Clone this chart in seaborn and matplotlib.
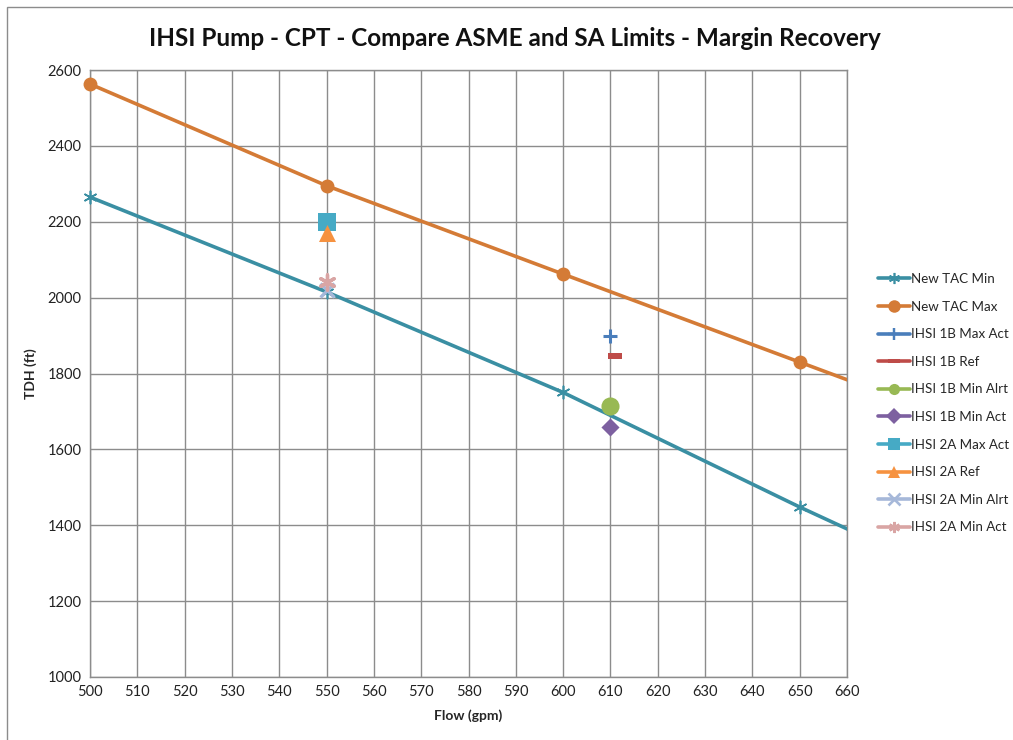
import matplotlib
matplotlib.use("Agg")
import matplotlib.pyplot as plt
from matplotlib.lines import Line2D
from matplotlib.patches import Rectangle
import seaborn as sns
import pandas as pd

# Test curve limits (flow in gpm, total developed head in ft)
tac_flow = [500, 550, 600, 650, 700]
tac_min_tdh = [2265, 2015, 1750, 1448, 1160]
tac_max_tdh = [2563, 2295, 2062, 1830, 1598]

# Measured pump points
point_names = ["IHSI 1B Max Act", "IHSI 1B Ref", "IHSI 1B Min Alrt", "IHSI 1B Min Act",
               "IHSI 2A Max Act", "IHSI 2A Ref", "IHSI 2A Min Alrt", "IHSI 2A Min Act"]
point_flow = [610, 611, 610, 610, 550, 550, 550, 550]
point_tdh = [1900, 1845, 1715, 1660, 2200, 2170, 2020, 2040]

x_ticks = list(range(500, 661, 10))
y_ticks = list(range(1000, 2601, 200))

sns.set_theme(style="white")
plt.rcParams["font.family"] = ["Lato", "DejaVu Sans"]

teal = "#3A8FA3"
orange = "#D47B36"
asterisk = (6, 2, 0)
dash = [(-1.0, -0.4), (1.0, -0.4), (1.0, 0.4), (-1.0, 0.4), (-1.0, -0.4)]
point_style = {
    "IHSI 1B Max Act": dict(color="#4A7EBB", marker="+", s=90, linewidths=2.2),
    "IHSI 1B Ref": dict(color="#BE4B48", marker=dash, s=90, linewidths=0),
    "IHSI 1B Min Alrt": dict(color="#98B954", marker="o", s=170, linewidths=0),
    "IHSI 1B Min Act": dict(color="#7D60A0", marker="D", s=85, linewidths=0),
    "IHSI 2A Max Act": dict(color="#46AAC5", marker="s", s=150, linewidths=0),
    "IHSI 2A Ref": dict(color="#F69240", marker="^", s=150, linewidths=0),
    "IHSI 2A Min Alrt": dict(color="#A6B8D9", marker="x", s=100, linewidths=2.4),
    "IHSI 2A Min Act": dict(color="#D9A5A4", marker=asterisk, s=120, linewidths=2.4),
}

fig = plt.figure(figsize=(10.13, 7.40), dpi=100)
ax = fig.add_axes([90 / 1013, 1 - 677 / 740, 757 / 1013, 607 / 740])

x_lo, x_hi = 500, 660
tac = pd.DataFrame({"flow": tac_flow, "min": tac_min_tdh, "max": tac_max_tdh})
shown = tac[(tac["flow"] >= x_lo) & (tac["flow"] <= x_hi)]

# limit curves: lines clipped to the plot area, markers drawn whole
sns.lineplot(data=tac, x="flow", y="min", ax=ax, color=teal, lw=2.6, zorder=3)
sns.lineplot(data=tac, x="flow", y="max", ax=ax, color=orange, lw=2.6, zorder=3)
sns.scatterplot(data=shown, x="flow", y="min", ax=ax, color=teal, marker=asterisk,
                s=80, linewidth=1.2, edgecolor=teal, zorder=4, clip_on=False)
sns.scatterplot(data=shown, x="flow", y="max", ax=ax, color=orange, marker="o",
                s=100, linewidth=0, zorder=4, clip_on=False)

pts = pd.DataFrame({"name": point_names, "flow": point_flow, "tdh": point_tdh})
for name, row in pts.set_index("name").iterrows():
    st = point_style[name]
    sns.scatterplot(x=[row["flow"]], y=[row["tdh"]], ax=ax, color=st["color"],
                    marker=st["marker"], s=st["s"], linewidth=st["linewidths"],
                    edgecolor=st["color"], zorder=4)

ax.set_xlim(x_lo, x_hi)
ax.set_ylim(1000, 2600)
ax.set_xticks(x_ticks)
ax.set_yticks(y_ticks)
ax.tick_params(axis="both", labelsize=10.5, colors="#222222", length=0, pad=6)
ax.grid(True, color="#8C8C8C", lw=1.0)
for sp in ax.spines.values():
    sp.set_color("#8C8C8C")
    sp.set_linewidth(1.0)
ax.set_xlabel("Flow (gpm)", fontsize=10, fontweight="bold", labelpad=7)
ax.set_ylabel("TDH (ft)", fontsize=10, fontweight="bold", labelpad=8)

fig.text(515 / 1013, 1 - 38 / 740, "IHSI Pump - CPT - Compare ASME and SA Limits - Margin Recovery",
         ha="center", va="center", fontsize=17.5, fontweight="bold", color="#111111")

handles = [Line2D([], [], color=teal, lw=2.6, marker=asterisk, markersize=8,
                  markeredgewidth=1.2, markeredgecolor=teal),
           Line2D([], [], color=orange, lw=2.6, marker="o", markersize=9, markeredgewidth=0)]
labels = ["New TAC Min", "New TAC Max"]
for name in point_names:
    st = point_style[name]
    handles.append(Line2D([], [], color=st["color"], lw=2.6, marker=st["marker"],
                          markersize=8, markeredgewidth=max(st["linewidths"], 0.01) * 0.8,
                          markeredgecolor=st["color"]))
    labels.append(name)
fig.legend(handles, labels, loc="upper left", bbox_to_anchor=(878 / 1013, 1 - 273 / 740),
           frameon=False, fontsize=9.6, handlelength=2.4, handletextpad=0.1,
           labelspacing=1.17, borderpad=0, borderaxespad=0)

fig.patches.append(Rectangle((7 / 1013, -0.05), 1.1, 1 - 7 / 740 + 0.05,
                             transform=fig.transFigure, fill=False,
                             edgecolor="#8C8C8C", lw=1.0))

fig.savefig("out.png", dpi=100, facecolor="white")
